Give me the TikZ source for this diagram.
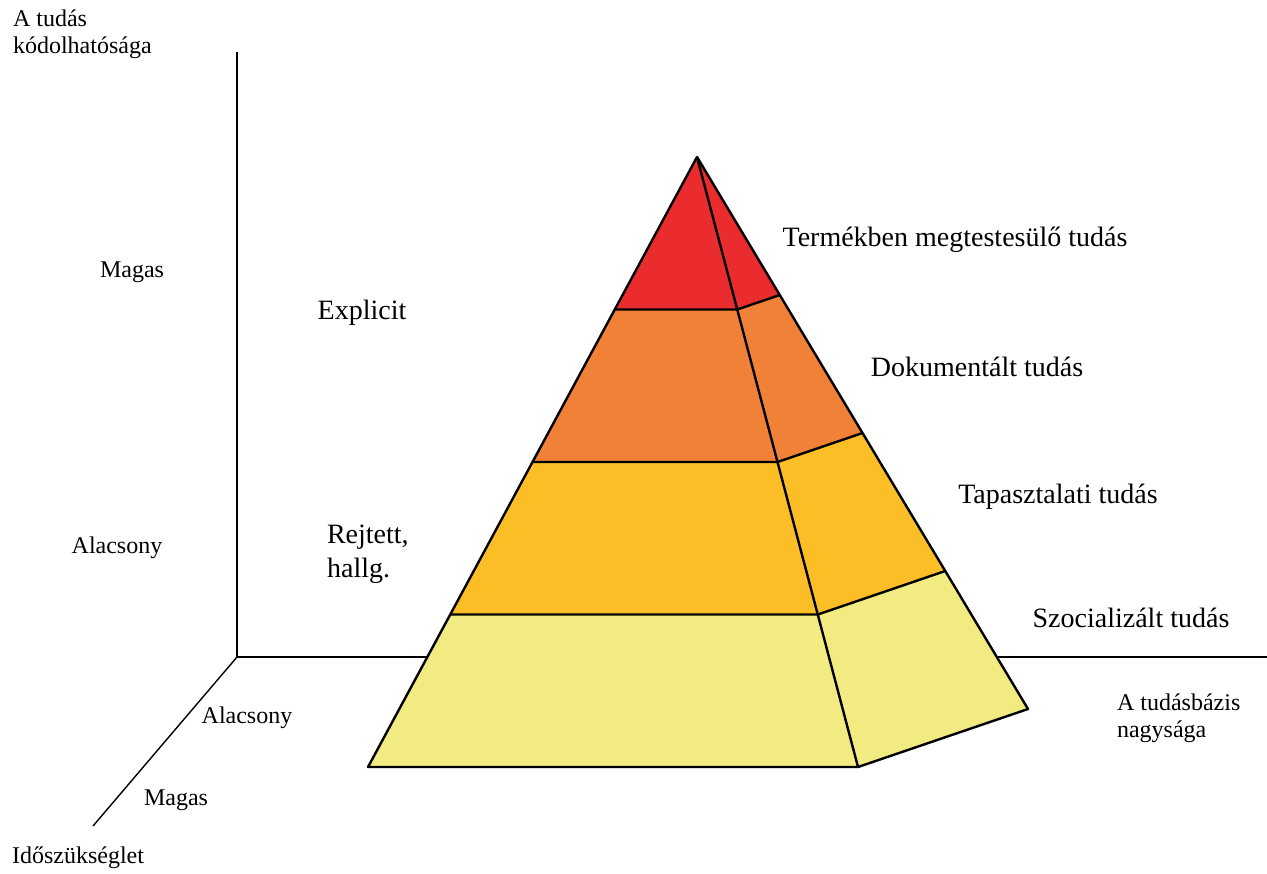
\documentclass[tikz,border=0pt]{standalone}
\usepackage{fontspec}
\setmainfont{Liberation Serif}
\usetikzlibrary{calc}

\definecolor{layerred}{RGB}{234,44,46}
\definecolor{layerorange}{RGB}{240,129,54}
\definecolor{layergold}{RGB}{251,190,38}
\definecolor{layerpale}{RGB}{241,235,130}

\begin{document}
\begin{tikzpicture}[x=0.5pt,y=-0.5pt,  edge/.style={line width=1.2pt, line join=round},  axis/.style={line width=0.7pt},  lab/.style={font=\fontsize{14}{17}\selectfont},  axlab/.style={font=\fontsize{12}{13.5}\selectfont, align=left}]
\useasboundingbox (0,0) rectangle (1267,873);
%%%%%%%%%%%%%%%%%%%%%%%%%%%%%%%%%%%%%%%%%%%%%%%%%%
% axes
%%%%%%%%%%%%%%%%%%%%%%%%%%%%%%%%%%%%%%%%%%%%%%%%%%
  \coordinate (O) at (237,657);
  \coordinate (ytop) at (237,52);
  \coordinate (xend) at (1267,657);
  \coordinate (zend) at (93,826);

  \draw[axis] (ytop)--(O)--(xend);
  \draw[axis] (O)--(zend);

  \node[axlab, anchor=west] (ylab) at (6,34) {A tudás\\kódolhatósága};
  \node[axlab] (yhigh) at (132,272) {Magas};
  \node[axlab] (ylow) at (117,548) {Alacsony};
  \node[axlab] (zlow) at (247,718) {Alacsony};
  \node[axlab] (zhigh) at (176,800) {Magas};
  \node[axlab, anchor=west] (zlab) at (5,858) {Időszükséglet};
  \node[axlab, anchor=west] (xlab) at (1110,718) {A tudásbázis\\nagysága};
%%%%%%%%%%%%%%%%%%%%%%%%%%%%%%%%%%%%%%%%%%%%%%%%%%
% pyramid
%%%%%%%%%%%%%%%%%%%%%%%%%%%%%%%%%%%%%%%%%%%%%%%%%%
  \coordinate (A) at (697,157);
  \coordinate (FL) at (368,767);
  \coordinate (FR) at (858,767);
  \coordinate (BR) at (1028,709);

  \coordinate (L1) at ($(A)!0.25!(FL)$);
  \coordinate (R1) at ($(A)!0.25!(FR)$);
  \coordinate (B1) at ($(A)!0.25!(BR)$);
  \coordinate (L2) at ($(A)!0.5!(FL)$);
  \coordinate (R2) at ($(A)!0.5!(FR)$);
  \coordinate (B2) at ($(A)!0.5!(BR)$);
  \coordinate (L3) at ($(A)!0.75!(FL)$);
  \coordinate (R3) at ($(A)!0.75!(FR)$);
  \coordinate (B3) at ($(A)!0.75!(BR)$);

  \fill[layerred] (A)--(L1)--(R1)--(B1)--cycle;
  \fill[layerorange] (L1)--(L2)--(R2)--(B2)--(B1)--(R1)--cycle;
  \fill[layergold] (L2)--(L3)--(R3)--(B3)--(B2)--(R2)--cycle;
  \fill[layerpale] (L3)--(FL)--(FR)--(BR)--(B3)--(R3)--cycle;

  \draw[edge] (A)--(FL)--(FR)--(BR)--cycle;
  \draw[edge] (A)--(FR);
  \draw[edge] (L1)--(R1)--(B1);
  \draw[edge] (L2)--(R2)--(B2);
  \draw[edge] (L3)--(R3)--(B3);
%%%%%%%%%%%%%%%%%%%%%%%%%%%%%%%%%%%%%%%%%%%%%%%%%%
% labels
%%%%%%%%%%%%%%%%%%%%%%%%%%%%%%%%%%%%%%%%%%%%%%%%%%
  \node[lab] (expl) at (362,313) {Explicit};
  \node[lab, anchor=west, align=left] (tacit) at (320,554) {Rejtett,\\hallg.};
  \node[lab] (prod) at (955,240) {Termékben megtestesülő tudás};
  \node[lab] (docu) at (977,367) {Dokumentált tudás};
  \node[lab] (expe) at (1058,497) {Tapasztalati tudás};
  \node[lab] (soci) at (1131,618) {Szocializált tudás};
\end{tikzpicture}
\end{document}
